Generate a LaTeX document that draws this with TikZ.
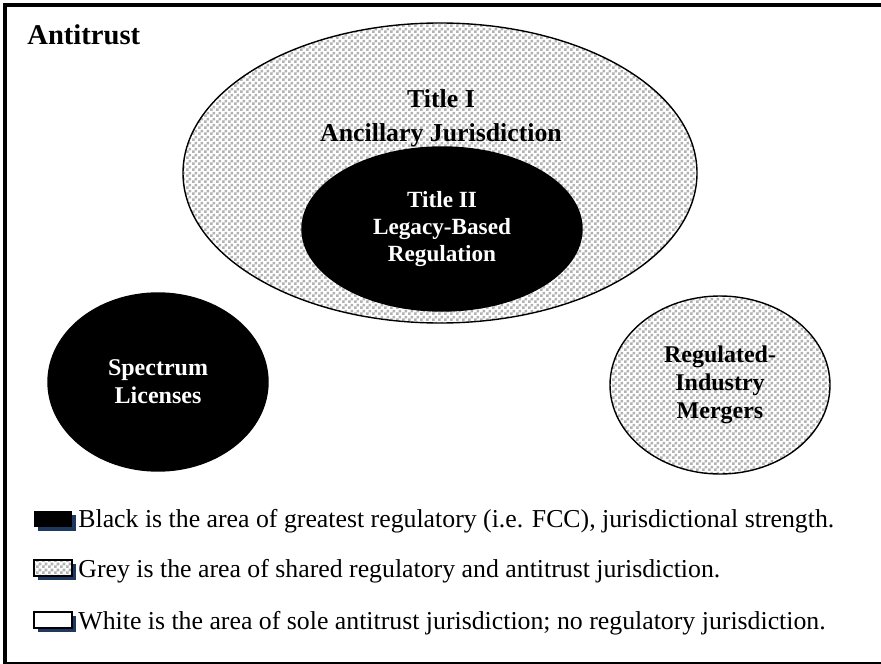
\documentclass[tikz,border=0pt]{standalone}
\usepackage{fontspec}
\setmainfont{Liberation Serif}
\usetikzlibrary{shapes.geometric, patterns, shadows}

\definecolor{keyshadow}{RGB}{31,56,96}

\pgfdeclarepatternformonly{checker}{\pgfpointorigin}{\pgfqpoint{3pt}{3pt}}{\pgfqpoint{3pt}{3pt}}{%
  \pgfpathrectangle{\pgfpointorigin}{\pgfqpoint{1.5pt}{1.5pt}}%
  \pgfpathrectangle{\pgfqpoint{1.5pt}{1.5pt}}{\pgfqpoint{1.5pt}{1.5pt}}%
  \pgfusepath{fill}}

\tikzset{
  zone/.style={ellipse, draw=black, line width=0.7pt, inner sep=0pt, align=center},
  shared/.style={zone, pattern=checker, pattern color=black!30},
  strong/.style={zone, fill=black, text=white},
  keybox/.style={rectangle, minimum width=19pt, minimum height=8pt, inner sep=0pt,
    drop shadow={shadow xshift=2pt, shadow yshift=-2pt, fill=keyshadow, opacity=1}},
  keytext/.style={anchor=base west, inner sep=0pt, font=\fontsize{12.9}{15}\selectfont},
}

\begin{document}
\begin{tikzpicture}[x=0.5pt, y=-0.5pt]
    \useasboundingbox (0,0) rectangle (881,663);
    \draw[line width=2pt] (5,5) rectangle (886,664);

    \node[anchor=base west, inner sep=0pt, font=\bfseries\fontsize{14.3}{17}\selectfont] (antitrust) at (27,45) {Antitrust};

    % regulatory zones
    \node[shared, minimum width=257pt, minimum height=150pt] (titleone) at (440,173) {};
    \node[align=center, font=\bfseries\fontsize{12.9}{17}\selectfont] (titleonetext) at (441,118) {Title I\\Ancillary Jurisdiction};
    \node[strong, minimum width=140pt, minimum height=82pt, font=\bfseries\fontsize{11.6}{13.5}\selectfont] (titletwo) at (442,229) {Title II\\Legacy-Based\\Regulation};

    \node[strong, minimum width=110pt, minimum height=89pt, font=\bfseries\fontsize{12}{14}\selectfont] (spectrum) at (158,382) {Spectrum\\Licenses};
    \node[shared, minimum width=110pt, minimum height=89pt, font=\bfseries\fontsize{12}{14}\selectfont] (mergers) at (720,385) {Regulated-\\Industry\\Mergers};

    % key
    \node[keybox, fill=black] (keyblack) at (53,519) {};
    \node[keytext] (txtblack) at (78,527) {Black is the area of greatest regulatory (i.e. FCC), jurisdictional strength.};

    \node[keybox, preaction={fill=white}, draw=black, line width=1pt, pattern=checker, pattern color=black!30] (keygrey) at (53,568) {};
    \node[keytext] (txtgrey) at (78,577) {Grey is the area of shared regulatory and antitrust jurisdiction.};

    \node[keybox, draw=black, line width=1.4pt, fill=white] (keywhite) at (53,620) {};
    \node[keytext] (txtwhite) at (78,629) {White is the area of sole antitrust jurisdiction; no regulatory jurisdiction.};
\end{tikzpicture}
\end{document}
